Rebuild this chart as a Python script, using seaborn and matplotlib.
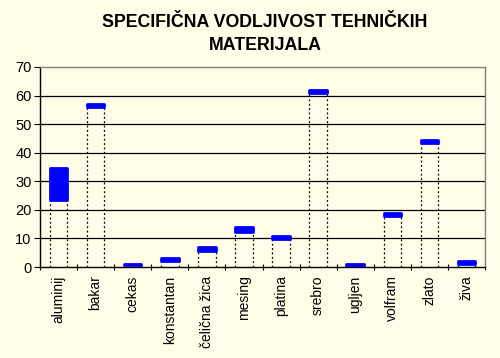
import numpy as np
import pandas as pd
import seaborn as sns
import matplotlib.pyplot as plt
from matplotlib.ticker import FixedLocator

materials = ["aluminij", "bakar", "cekas", "konstantan", "čelična žica", "mesing",
             "platina", "srebro", "ugljen", "volfram", "zlato", "živa"]
low = [23.5, 56.0, 0.6, 2.0, 5.5, 12.3, 9.9, 61.0, 0.3, 17.7, 43.3, 1.0]
high = [34.5, 57.0, 1.0, 3.0, 6.9, 13.9, 11.0, 62.0, 0.9, 19.0, 44.5, 2.0]

df = pd.DataFrame({"material": materials, "low": low, "high": high})
df["span"] = df["high"] - df["low"]

bg = "#FFFDE8"
sns.set_theme(style="white")
plt.rcParams["font.family"] = ["Liberation Sans", "DejaVu Sans"]

fig = plt.figure(figsize=(5, 3.58), dpi=100, facecolor=bg)
ax = fig.add_axes([0.08, 0.254, 0.89, 0.559])
ax.set_facecolor(bg)

width = 0.47
sns.barplot(data=df, x="material", y="span", bottom=df["low"].to_numpy(),
            color="#0000FF", width=width, saturation=1, edgecolor="#0000FF",
            linewidth=2.0, joinstyle="round", ax=ax, zorder=3)

# dotted drop lines from the axis to the bottom of each bar
pos = np.arange(len(materials))
ax.vlines(pos - width / 2, 0, df["low"], colors="black", linestyles=(0, (1.5, 2)),
          linewidth=0.9, zorder=2)
ax.vlines(pos + width / 2, 0, df["low"], colors="black", linestyles=(0, (1.5, 2)),
          linewidth=0.9, zorder=2)

ax.set_ylim(0, 70)
ax.set_xlim(-0.5, len(materials) - 0.5)
ax.set_yticks(range(0, 71, 10))
for y in range(10, 70, 10):
    ax.axhline(y, color="black", linewidth=0.9, zorder=1)

ax.set_xlabel("")
ax.set_ylabel("")
ax.set_xticks(pos)
ax.set_xticklabels(materials, rotation=90, fontsize=10, color="black")
ax.xaxis.set_minor_locator(FixedLocator(np.arange(-0.5, len(materials), 1.0)))
ax.tick_params(axis="x", which="major", length=0, pad=6)
ax.tick_params(axis="x", which="minor", bottom=True, direction="inout", length=5,
               width=0.8, color="black")
ax.tick_params(axis="y", left=True, direction="out", length=4, width=0.8,
               color="black", labelsize=10.5, labelcolor="black", pad=2)

for side in ["left", "bottom"]:
    ax.spines[side].set_color("black")
    ax.spines[side].set_linewidth(1.0)
for side in ["top", "right"]:
    ax.spines[side].set_color("#808080")
    ax.spines[side].set_linewidth(1.0)

fig.text(0.53, 0.905, "SPECIFIČNA VODLJIVOST TEHNIČKIH\nMATERIJALA", ha="center",
         va="center", fontsize=12.8, fontweight="bold", color="black", linespacing=1.5)

plt.savefig("out.png", dpi=100, facecolor=bg)
